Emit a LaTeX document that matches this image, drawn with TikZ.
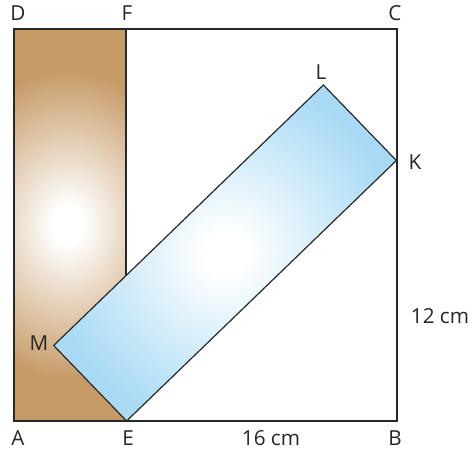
\documentclass[tikz,border=0pt]{standalone}
\usepackage{fontspec}
\setmainfont{Open Sans}
\definecolor{brownC}{RGB}{198,154,102}
\definecolor{blueC}{RGB}{168,218,245}
\definecolor{lineC}{RGB}{40,40,40}
\pgfdeclareradialshading{brownglow}{\pgfpointorigin}{color(0bp)=(white); color(1.5bp)=(white); color(12.5bp)=(brownC); color(50bp)=(brownC)}
\pgfdeclareradialshading{blueglow}{\pgfpointorigin}{color(0bp)=(white); color(2.5bp)=(white); color(22bp)=(blueC); color(50bp)=(blueC)}
\tikzset{
  lbl/.style={font=\fontsize{15.5}{17}\selectfont, text=black!85, inner sep=0pt},
  frame/.style={draw=lineC, line width=1.5pt},
  rectline/.style={draw=lineC, line width=0.9pt, line join=miter}
}
\begin{document}
\begin{tikzpicture}[x=0.75pt,y=0.75pt]
\useasboundingbox (0,0) rectangle (473,454);
% square corners
\coordinate (A) at (14,33);
\coordinate (B) at (397,33);
\coordinate (C) at (397,425);
\coordinate (D) at (14,425);
\coordinate (F) at (126,425);
\coordinate (E) at (126,33);
% blue rectangle
\begin{scope}[shift={(225,201)}, rotate=44]
  \coordinate (bE) at (-187.5,-52.5);
  \coordinate (bK) at (187.5,-52.5);
  \coordinate (bL) at (187.5,52.5);
  \coordinate (bM) at (-187.5,52.5);
\end{scope}
% brown strip
\begin{scope}
  \clip (A) rectangle (F);
  \shade[shading=brownglow] (68-250,229-310) rectangle (68+250,229+310);
\end{scope}
\draw[frame, line width=1.1pt] (F) -- (E);
% blue rectangle
\begin{scope}
  \clip (bE) -- (bK) -- (bL) -- (bM) -- cycle;
  \shade[shading=blueglow] (225-200,201-200) rectangle (225+200,201+200);
\end{scope}
\draw[rectline] (bE) -- (bK) -- (bL) -- (bM) -- cycle;
% frame
\draw[frame] (A) -- (B) -- (C) -- (D) -- cycle;
% labels
\node[lbl] (lD) at (18,441) {D};
\node[lbl] (lF) at (127,441) {F};
\node[lbl] (lC) at (395,441) {C};
\node[lbl] (lL) at (321,382) {L};
\node[lbl] (lK) at (415,292) {K};
\node[lbl] (lM) at (39,111) {M};
\node[lbl] (lA) at (18,16) {A};
\node[lbl] (lE) at (128,16) {E};
\node[lbl] (lB) at (395,16) {B};
\node[lbl] (l16) at (271,16) {16 cm};
\node[lbl] (l12) at (440,138) {12 cm};
\end{tikzpicture}
\end{document}
